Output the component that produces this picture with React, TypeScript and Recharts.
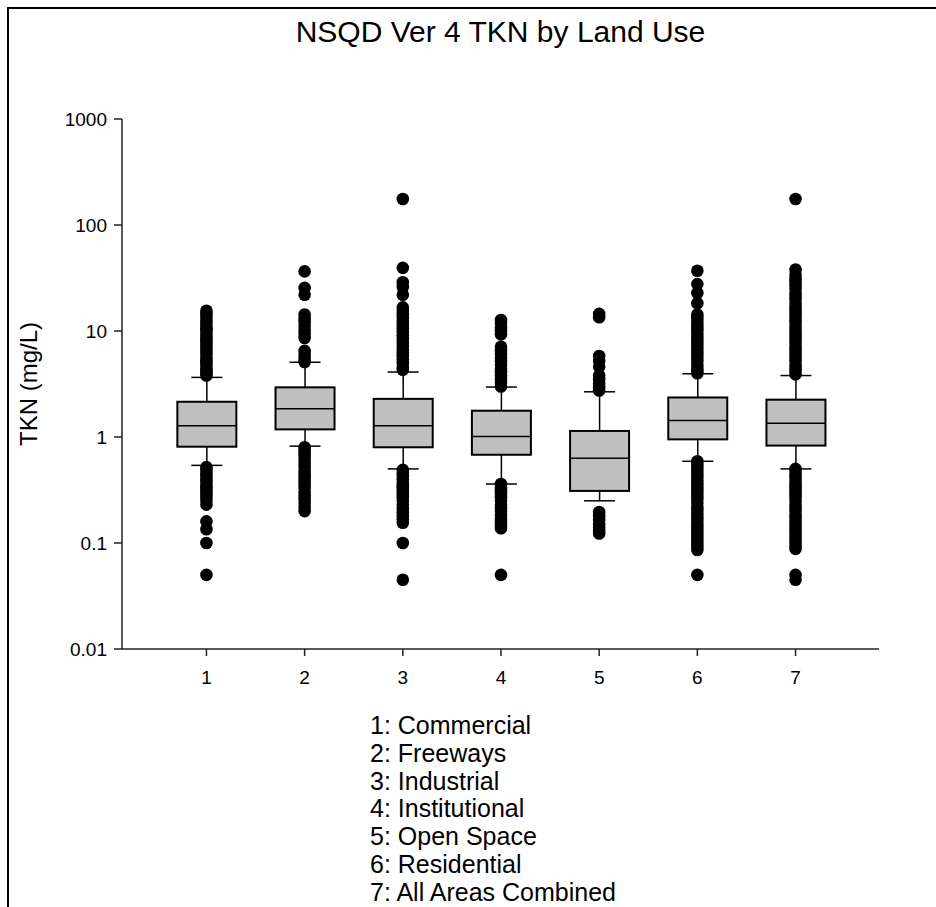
import { ComposedChart, Bar, Scatter, XAxis, YAxis } from 'recharts';

// land use groups on the x axis
const categories = [1, 2, 3, 4, 5, 6, 7];
const landUses = [
  'Commercial',
  'Freeways',
  'Industrial',
  'Institutional',
  'Open Space',
  'Residential',
  'All Areas Combined',
];

// box statistics, TKN mg/L
const whiskerLow = [0.54, 0.82, 0.5, 0.36, 0.25, 0.59, 0.5];
const q1 = [0.81, 1.18, 0.8, 0.68, 0.31, 0.95, 0.83];
const median = [1.28, 1.85, 1.28, 1.01, 0.63, 1.43, 1.35];
const q3 = [2.15, 2.94, 2.29, 1.77, 1.14, 2.36, 2.25];
const whiskerHigh = [3.65, 5.07, 4.1, 2.96, 2.67, 3.95, 3.8];

// outliers above the upper whisker
const outliersHigh: number[][] = [
  [3.8, 4.0, 4.2, 4.4, 4.7, 5.0, 5.3, 5.6, 6.0, 6.4, 6.8, 7.2, 7.7, 8.2, 8.7, 9.3, 10, 10.5, 11, 11.8, 12.5, 13.5, 14.5, 15.5],
  [36.5, 25.5, 22, 14.3, 13.2, 12.2, 11.2, 10.3, 9.4, 8.6, 6.5, 6.0, 5.5, 5.1],
  [176, 39.4, 28.8, 26, 22, 16.7, 15.5, 14.4, 13.3, 12.3, 11.4, 10.6, 9.8, 9.1, 8.4, 7.8, 7.2, 6.7, 6.2, 5.8, 5.4, 5.0, 4.6, 4.3],
  [12.7, 11.8, 10.8, 10, 9.3, 7.1, 6.6, 6.1, 5.6, 5.2, 4.8, 4.4, 4.1, 3.8, 3.5, 3.25, 3.0],
  [14.5, 13.5, 5.8, 5.2, 4.6, 3.8, 3.5, 3.2, 2.95, 2.75],
  [37, 27.7, 22.8, 18.3, 14.3, 13.3, 12.4, 11.5, 10.7, 10, 9.3, 8.6, 8.0, 7.4, 6.9, 6.4, 6.0, 5.6, 5.2, 4.8, 4.5, 4.2, 4.0],
  [176, 38, 34, 31, 29, 27, 25, 23, 21.5, 20, 18.5, 17, 16, 14.8, 13.8, 12.8, 11.9, 11, 10.2, 9.5, 8.8, 8.2, 7.6, 7.0, 6.5, 6.0, 5.6, 5.2, 4.8, 4.5, 4.2, 3.9],
];

// outliers below the lower whisker
const outliersLow: number[][] = [
  [0.52, 0.49, 0.46, 0.43, 0.4, 0.38, 0.35, 0.33, 0.31, 0.29, 0.27, 0.25, 0.23, 0.16, 0.135, 0.1, 0.05],
  [0.8, 0.75, 0.7, 0.65, 0.6, 0.56, 0.52, 0.48, 0.45, 0.42, 0.39, 0.36, 0.33, 0.3, 0.28, 0.26, 0.24, 0.22, 0.2],
  [0.49, 0.46, 0.43, 0.4, 0.37, 0.35, 0.33, 0.31, 0.29, 0.27, 0.25, 0.23, 0.21, 0.195, 0.18, 0.167, 0.155, 0.1, 0.045],
  [0.36, 0.33, 0.31, 0.29, 0.27, 0.25, 0.23, 0.215, 0.2, 0.185, 0.17, 0.158, 0.147, 0.138, 0.05],
  [0.196, 0.18, 0.165, 0.15, 0.14, 0.13, 0.123],
  [0.59, 0.55, 0.51, 0.48, 0.45, 0.42, 0.39, 0.36, 0.34, 0.32, 0.3, 0.28, 0.26, 0.24, 0.22, 0.205, 0.19, 0.177, 0.165, 0.153, 0.142, 0.132, 0.123, 0.114, 0.106, 0.099, 0.092, 0.086, 0.05],
  [0.5, 0.47, 0.44, 0.41, 0.38, 0.35, 0.33, 0.31, 0.29, 0.27, 0.25, 0.23, 0.215, 0.2, 0.185, 0.172, 0.16, 0.148, 0.137, 0.127, 0.118, 0.11, 0.102, 0.095, 0.088, 0.05, 0.045],
];

const yTicks = [0.01, 0.1, 1, 10, 100, 1000];
const xDomain = [0.14, 7.85];

const boxData = categories.map((c, i) => ({
  x: c,
  whisker: [whiskerLow[i], whiskerHigh[i]],
  box: [q1[i], q3[i]],
}));
const medianData = categories.map((c, i) => ({ x: c, y: median[i] }));
const outlierData = categories.flatMap((c, i) =>
  [...outliersHigh[i], ...outliersLow[i]].map((v) => ({ x: c, y: v }))
);

const FONT = '"Liberation Sans", Arial, sans-serif';
const AXIS = '#222';
const BOX_W = 59;
const CAP_W = 31;

const WhiskerShape = (props: any) => {
  const { x, y, width, height } = props;
  const cx = x + width / 2;
  return (
    <g stroke="#000" strokeWidth={1.5}>
      <line x1={cx} x2={cx} y1={y} y2={y + height} />
      <line x1={cx - CAP_W / 2} x2={cx + CAP_W / 2} y1={y} y2={y} />
      <line x1={cx - CAP_W / 2} x2={cx + CAP_W / 2} y1={y + height} y2={y + height} />
    </g>
  );
};

const BoxShape = (props: any) => {
  const { x, y, width, height } = props;
  return <rect x={x} y={y} width={width} height={height} fill="#c0c0c0" stroke="#000" strokeWidth={2} />;
};

const MedianShape = (props: any) => (
  <line x1={props.cx - BOX_W / 2} x2={props.cx + BOX_W / 2} y1={props.cy} y2={props.cy} stroke="#000" strokeWidth={1.5} />
);

const Dot = (props: any) => <circle cx={props.cx} cy={props.cy} r={6.3} fill="#000" />;

export default function App() {
  return (
    <div style={{ position: 'absolute', left: 0, top: 0, width: 936, height: 907, background: '#fff', fontFamily: FONT, overflow: 'hidden' }}>
      <div
        style={{
          position: 'absolute',
          left: 7,
          top: 7,
          width: 929,
          height: 900,
          borderTop: '2px solid #000',
          borderLeft: '2px solid #000',
        }}
      />
      <div style={{ position: 'absolute', left: 0, width: 1001, top: 17, lineHeight: '30px', fontSize: 30, textAlign: 'center', color: '#000' }}>
        NSQD Ver 4 TKN by Land Use
      </div>

      <div style={{ position: 'absolute', left: 0, top: 0 }}>
        <ComposedChart width={936} height={907} data={boxData} margin={{ top: 119, right: 57, bottom: 218, left: 42 }}>
          <XAxis
            dataKey="x"
            type="number"
            domain={xDomain}
            ticks={categories}
            allowDataOverflow
            height={40}
            tickSize={7}
            tickMargin={15}
            axisLine={{ stroke: AXIS, strokeWidth: 1.5 }}
            tickLine={{ stroke: AXIS, strokeWidth: 1.5 }}
            tick={{ fill: '#000', fontSize: 19, fontFamily: FONT }}
          />
          <XAxis xAxisId="whisk" dataKey="x" type="number" domain={xDomain} ticks={categories} allowDataOverflow hide />
          <XAxis xAxisId="box" dataKey="x" type="number" domain={xDomain} ticks={categories} allowDataOverflow hide />
          <XAxis
            xAxisId="top"
            orientation="top"
            type="number"
            domain={xDomain}
            height={0}
            tick={false}
            tickLine={false}
            axisLine={{ stroke: AXIS, strokeWidth: 1.5 }}
          />
          <YAxis
            dataKey="y"
            scale="log"
            type="number"
            domain={[0.01, 1000]}
            ticks={yTicks}
            allowDataOverflow
            width={80}
            tickSize={8}
            tickMargin={7}
            axisLine={{ stroke: AXIS, strokeWidth: 1.5 }}
            tickLine={{ stroke: AXIS, strokeWidth: 1.5 }}
            tick={{ fill: '#000', fontSize: 19, fontFamily: FONT }}
          />
          <YAxis
            yAxisId="right"
            orientation="right"
            type="number"
            domain={[0, 1]}
            width={0}
            tick={false}
            tickLine={false}
            axisLine={{ stroke: AXIS, strokeWidth: 1.5 }}
          />
          <Bar xAxisId="whisk" dataKey="whisker" barSize={BOX_W} shape={WhiskerShape} isAnimationActive={false} />
          <Bar xAxisId="box" dataKey="box" barSize={BOX_W} shape={BoxShape} isAnimationActive={false} />
          <Scatter data={medianData} shape={MedianShape} isAnimationActive={false} />
          <Scatter data={outlierData} shape={Dot} isAnimationActive={false} />
        </ComposedChart>
      </div>

      <div
        style={{
          position: 'absolute',
          left: 29,
          top: 384,
          transform: 'translate(-50%, -50%) rotate(-90deg)',
          fontSize: 24,
          lineHeight: '24px',
          whiteSpace: 'nowrap',
          color: '#000',
        }}
      >
        TKN (mg/L)
      </div>

      <div style={{ position: 'absolute', left: 370, top: 712, fontSize: 25, lineHeight: '27.8px', color: '#000' }}>
        {landUses.map((name, i) => (
          <div key={name} style={{ whiteSpace: 'nowrap' }}>
            {categories[i]}: {name}
          </div>
        ))}
      </div>
    </div>
  );
}
